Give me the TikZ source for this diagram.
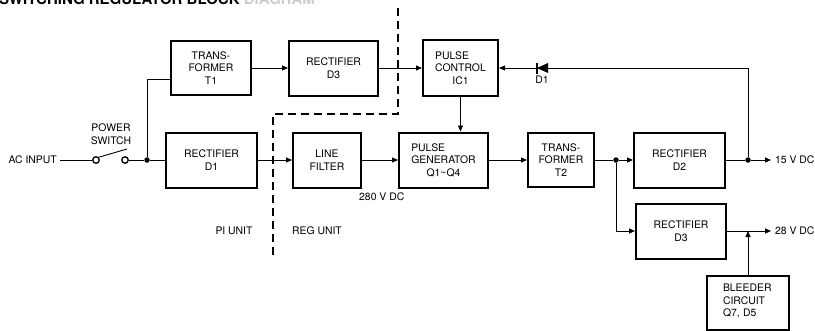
\documentclass[tikz,border=0pt]{standalone}
\usepackage{fontspec}
\setmainfont{TeX Gyre Heros}
\usetikzlibrary{arrows.meta}
\usetikzlibrary{calc}
\usetikzlibrary{positioning}

\begin{document}
\begin{tikzpicture}[x=1pt, y=-1pt,
        font=\fontsize{10.4}{12.5}\selectfont,
        block/.style={draw, line width=2pt, align=center, inner sep=0pt},
        wire/.style={line width=0.9pt},
        sig/.style={wire, -{Triangle[length=6pt, width=5pt]}},
        dot/.style={circle, fill, inner sep=0pt, minimum size=5.5pt},
        contact/.style={circle, draw, line width=1.3pt, fill=white, inner sep=0pt, minimum size=6.5pt}]

        \path [use as bounding box, clip] (0,0) rectangle (815,330);

        % Title, cut at the top edge
        \node [anchor=base west, inner sep=0pt, font=\fontsize{15}{18}\selectfont\bfseries] (title) at (-1,4) {SWITCHING REGULATOR BLOCK \textcolor{black!20}{DIAGRAM}};

        % Blocks
        \node [block, minimum width=80pt, minimum height=54pt] (t1) at (211,68) {TRANS-\\FORMER\\T1};
        \node [block, minimum width=89pt, minimum height=55pt] (d3a) at (333.5,68) {RECTIFIER\\D3};
        \node [block, minimum width=75pt, minimum height=56pt] (ic1) at (460.5,68) {\rlap{PULSE}\phantom{CONTROL}\\CONTROL\\IC1};
        \node [block, minimum width=91pt, minimum height=55pt] (d1) at (211.5,160) {RECTIFIER\\D1};
        \node [block, minimum width=68pt, minimum height=55pt] (lf) at (327,160) {LINE\\FILTER};
        \node [block, minimum width=89pt, minimum height=55pt] (pg) at (443.5,160) {\rlap{PULSE}\phantom{GENERATOR}\\GENERATOR\\Q1\textasciitilde Q4};
        \node [block, minimum width=66pt, minimum height=54pt] (t2) at (561,160) {TRANS-\\FORMER\\T2};
        \node [block, minimum width=91pt, minimum height=55pt] (d2) at (679.5,160) {RECTIFIER\\D2};
        \node [block, minimum width=90pt, minimum height=55pt] (d3b) at (681,231) {RECTIFIER\\D3};
        \node [block, anchor=north, align=left, text width=50pt, inner xsep=16pt, inner ysep=8pt, text depth=30pt] (bleed) at (748,275) {BLEEDER\\CIRCUIT\\Q7, D5};

        % Input side and power switch
        \node [anchor=east, inner sep=3pt] (acin) at (60,160) {AC INPUT};
        \node [contact] (sa) at (96,160) {};
        \node [contact] (sb) at (125,160) {};
        \node [align=center, inner sep=0pt] (pwsw) at (111,134) {POWER\\SWITCH};
        \coordinate (lever) at (127,149);
        \node [dot] (jsw) at (147,160) {};
        \draw [wire] (acin) -- (sa);
        \draw [wire] (sa.north east) -- (lever);
        \draw [wire] (sb) -- (jsw) -- (d1);
        \draw [wire] (jsw) |- ([yshift=-11pt]t1.west);

        % Signal path
        \draw [sig] (t1) -- (d3a);
        \draw [sig] (d3a) -- (ic1);
        \draw [sig] (ic1) -- (ic1 |- pg.north);
        \draw [sig] (d1) -- (lf);
        \draw [sig] (lf) -- (pg);
        \draw [sig] (pg) -- (t2);
        \node [dot] (jt2) at (616,160) {};
        \draw [wire] (t2) -- (jt2);
        \draw [sig] (jt2) -- (d2);
        \draw [sig] (jt2) |- (d3b);

        % Outputs
        \node [dot] (j15) at (748,160) {};
        \coordinate (o15) at (771,160);
        \coordinate (o28) at (771,231);
        \coordinate (j28) at (bleed.north |- d3b);
        \draw [wire] (d2) -- (j15);
        \draw [sig] (j15) -- (o15);
        \draw [sig] (d3b) -- (o28);
        \draw [sig] (bleed) -- (j28);
        \node [anchor=west, inner sep=4pt] (v15) at (o15) {15 V DC};
        \node [anchor=west, inner sep=4pt] (v28) at (o28) {28 V DC};

        % Feedback through D1
        \coordinate (fb) at (j15 |- ic1);
        \coordinate (d1k) at (542,68);
        \draw [sig] (j15) -- (fb) -- (ic1);
        \fill ($(d1k)+(-5,0)$) -- ($(d1k)+(6,-5)$) -- ($(d1k)+(6,5)$) -- cycle;
        \draw [line width=1.4pt] ($(d1k)+(-5,-5.5)$) -- ($(d1k)+(-5,5.5)$);
        \node [below=4pt] (d1lbl) at (d1k) {D1};

        % Unit boundary
        \draw [line width=2.5pt, dash pattern=on 8pt off 5pt] (398,8) -- (398,114) -- (273,114) -- (273,256);
        \node (pi) at (234,231) {PI UNIT};
        \node (reg) at (317,231) {REG UNIT};
        \node [anchor=north west, inner sep=1pt] (v280) at ([xshift=-4pt, yshift=-3pt]lf.south east) {280 V DC};
\end{tikzpicture}
\end{document}
